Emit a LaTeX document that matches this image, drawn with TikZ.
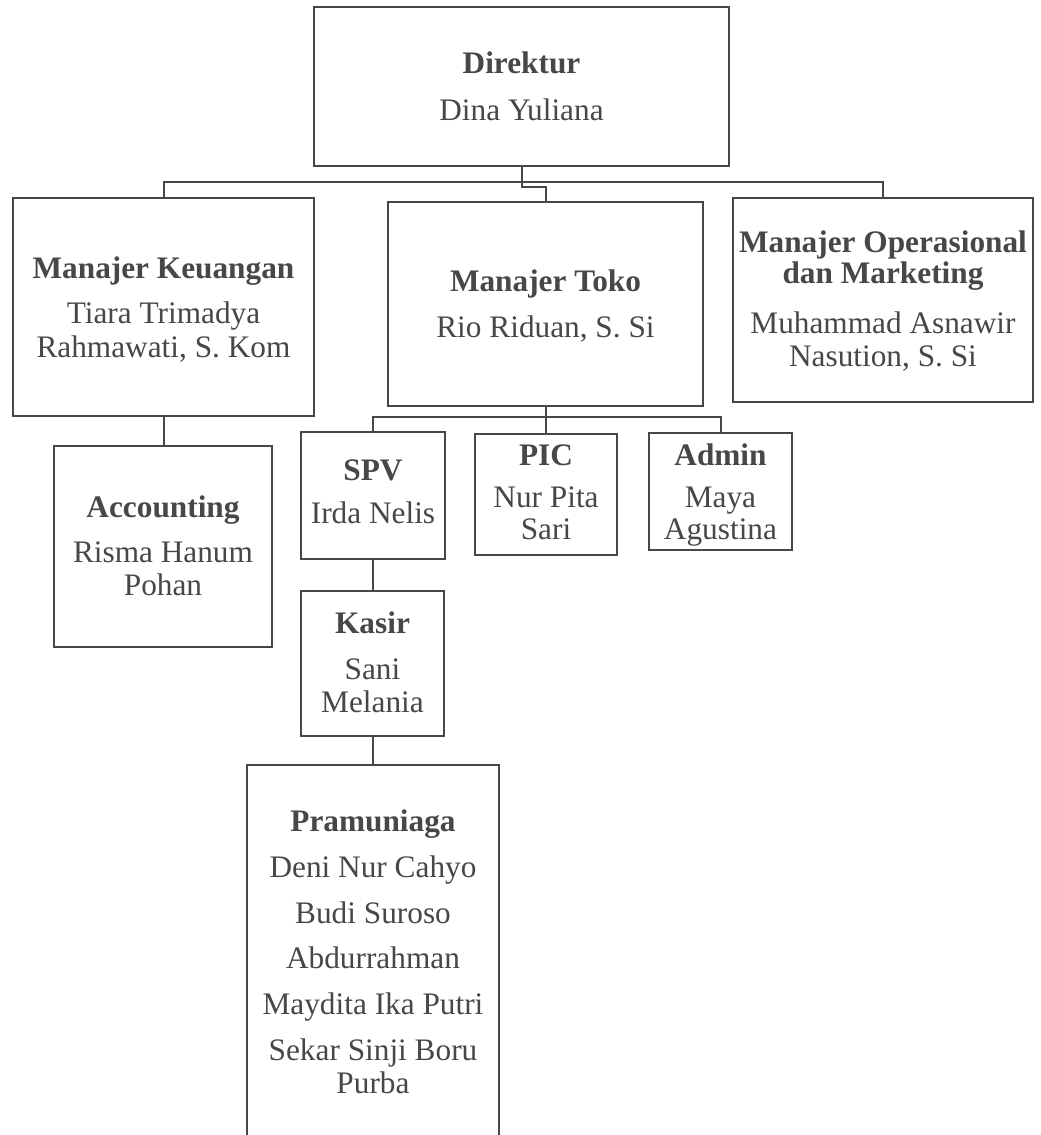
\documentclass[tikz,border=0pt]{standalone}
\usepackage{fontspec}
\setmainfont{Liberation Serif}
\definecolor{ink}{HTML}{474747}
\begin{document}
\begin{tikzpicture}[x=1pt,y=-1pt,
  box/.style={draw=ink,line width=2pt,inner sep=0pt,outer sep=0pt,minimum width=#1},
  t/.style={inner sep=0pt,anchor=base,text=ink,font=\fontsize{31.3}{34}\selectfont},
  tb/.style={t,font=\fontsize{31.3}{34}\selectfont\bfseries},
  conn/.style={draw=ink,line width=2pt}]
\clip (0,0) rectangle (1041,1135);
\fill[white] (0,0) rectangle (1041,1135);
% boxes
\node[box=415pt,minimum height=159pt] (dir) at (521.5,86.5) {};
\node[box=301pt,minimum height=218pt] (keu) at (163.5,307) {};
\node[box=315pt,minimum height=204pt] (toko) at (545.5,304) {};
\node[box=300pt,minimum height=204pt] (ops) at (883,300) {};
\node[box=218pt,minimum height=201pt] (acc) at (163,546.5) {};
\node[box=144pt,minimum height=127pt] (spv) at (373,495.5) {};
\node[box=142pt,minimum height=121pt] (pic) at (546,494.5) {};
\node[box=143pt,minimum height=117pt] (adm) at (720.5,491.5) {};
\node[box=143pt,minimum height=145pt] (kas) at (372.5,663.5) {};
\node[box=252pt,minimum height=380pt] (pra) at (373,955) {};
% connectors
\draw[conn] (dir.south) -- ++(0,21) -| (toko.north);
\draw[conn] (keu.north) -- ++(0,-16) -| (ops.north);
\draw[conn] (keu.south) -- (keu.south |- acc.north);
\draw[conn] (toko.south) -- (toko.south |- pic.north);
\draw[conn] (spv.north) -- ++(0,-15.5) -| (adm.north);
\draw[conn] (spv.south) -- (spv.south |- kas.north);
\draw[conn] (kas.south) -- (kas.south |- pra.north);
% texts
\node[tb] (t1) at (521.5,73) {Direktur};
\node[t] (t2) at (521.5,120) {Dina Yuliana};
\node[tb] (t3) at (163.5,278) {Manajer Keuangan};
\node[t] (t4) at (163.5,323) {Tiara Trimadya};
\node[t] (t5) at (163.5,357) {Rahmawati, S. Kom};
\node[tb] (t6) at (545.5,291) {Manajer Toko};
\node[t] (t7) at (545.5,337) {Rio Riduan, S. Si};
\node[tb] (t8) at (883,252) {Manajer Operasional};
\node[tb] (t9) at (883,283) {dan Marketing};
\node[t] (t10) at (883,333) {Muhammad Asnawir};
\node[t] (t11) at (883,366) {Nasution, S. Si};
\node[tb] (t12) at (163,517) {Accounting};
\node[t] (t13) at (163,562) {Risma Hanum};
\node[t] (t14) at (163,595) {Pohan};
\node[tb] (t15) at (373,480) {SPV};
\node[t] (t16) at (373,523) {Irda Nelis};
\node[tb] (t17) at (546,465) {PIC};
\node[t] (t18) at (546,507) {Nur Pita};
\node[t] (t19) at (546,539) {Sari};
\node[tb] (t20) at (720.5,465) {Admin};
\node[t] (t21) at (720.5,507) {Maya};
\node[t] (t22) at (720.5,539) {Agustina};
\node[tb] (t23) at (372.5,633) {Kasir};
\node[t] (t24) at (372.5,679) {Sani};
\node[t] (t25) at (372.5,712) {Melania};
\node[tb] (t26) at (373,831) {Pramuniaga};
\node[t] (t27) at (373,877) {Deni Nur Cahyo};
\node[t] (t28) at (373,923) {Budi Suroso};
\node[t] (t29) at (373,968) {Abdurrahman};
\node[t] (t30) at (373,1014) {Maydita Ika Putri};
\node[t] (t31) at (373,1060) {Sekar Sinji Boru};
\node[t] (t32) at (373,1093) {Purba};
\end{tikzpicture}
\end{document}
